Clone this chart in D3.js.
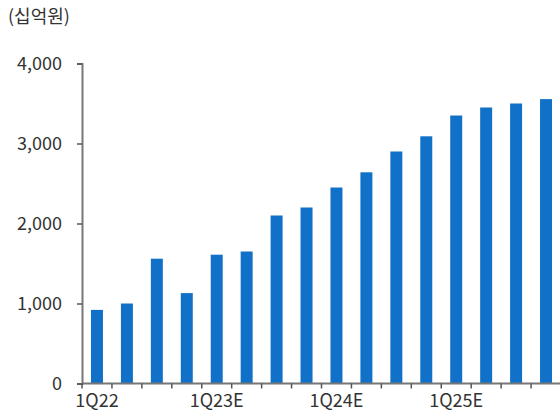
<!DOCTYPE html>
<html>
<head>
<meta charset="utf-8">
<script src="https://cdn.jsdelivr.net/npm/d3@7"></script>
<style>
  body { margin: 0; background: #fff; }
  text { font-family: "Noto Sans CJK KR", "Noto Sans", sans-serif; fill: #333; }
</style>
</head>
<body>
<div id="chart"></div>
<script>
// quarters 1Q22 .. 4Q25E
const quarters = ["1Q22", "2Q22", "3Q22", "4Q22",
  "1Q23E", "2Q23E", "3Q23E", "4Q23E",
  "1Q24E", "2Q24E", "3Q24E", "4Q24E",
  "1Q25E", "2Q25E", "3Q25E", "4Q25E"];
const values = [920, 1000, 1560, 1130, 1610, 1650, 2100, 2200,
  2450, 2640, 2900, 3090, 3350, 3450, 3500, 3555];
const shownLabels = ["1Q22", "1Q23E", "1Q24E", "1Q25E"];
const yTicks = [0, 1000, 2000, 3000, 4000];
const unitLabel = "(십억원)";

const width = 560, height = 418;
const margin = { top: 63.5, right: -1, bottom: 34.5, left: 82 };

const svg = d3.select("#chart").append("svg")
  .attr("width", width)
  .attr("height", height);

const x = d3.scaleBand()
  .domain(quarters)
  .range([margin.left, width - margin.right])
  .paddingInner(0.6)
  .paddingOuter(0.3);

const y = d3.scaleLinear()
  .domain([0, 4000])
  .range([height - margin.bottom, margin.top]);

// bars
svg.append("g")
  .selectAll("rect").data(values)
  .enter().append("rect")
  .attr("x", (d, i) => x(quarters[i]))
  .attr("y", d => y(d))
  .attr("width", x.bandwidth())
  .attr("height", d => y(0) - y(d))
  .attr("fill", "#1170c8");

// y axis
const yAxis = svg.append("g")
  .attr("transform", `translate(${margin.left},0)`)
  .call(d3.axisLeft(y).tickValues(yTicks).tickFormat(d3.format(",")).tickSize(5).tickPadding(15));
yAxis.select(".domain").attr("stroke", "#777").attr("stroke-width", 2);
yAxis.selectAll(".tick line").attr("stroke", "#555").attr("stroke-width", 1.5);
yAxis.selectAll("text").style("font-size", "18px").attr("fill", "#333");

// x axis: labels under selected bands, ticks at band boundaries
const xAxis = svg.append("g")
  .attr("transform", `translate(0,${y(0)})`)
  .call(d3.axisBottom(x).tickValues(shownLabels).tickSize(0).tickPadding(11));
xAxis.select(".domain").attr("stroke", "#777").attr("stroke-width", 2)
  .attr("d", `M${margin.left},0H${width}`);
xAxis.selectAll("text").style("font-size", "18px").attr("fill", "#333");

const step = x.step();
const x0 = x(quarters[0]) - step * x.paddingOuter();
xAxis.selectAll(".bound")
  .data(quarters)
  .enter().append("line")
  .attr("class", "bound")
  .attr("x1", (d, i) => x0 + i * step)
  .attr("x2", (d, i) => x0 + i * step)
  .attr("y1", 0)
  .attr("y2", 5)
  .attr("stroke", "#555")
  .attr("stroke-width", 1.5);

// unit label
svg.append("text")
  .attr("x", 8)
  .attr("y", 23)
  .style("font-size", "18px")
  .text(unitLabel);
</script>
</body>
</html>
